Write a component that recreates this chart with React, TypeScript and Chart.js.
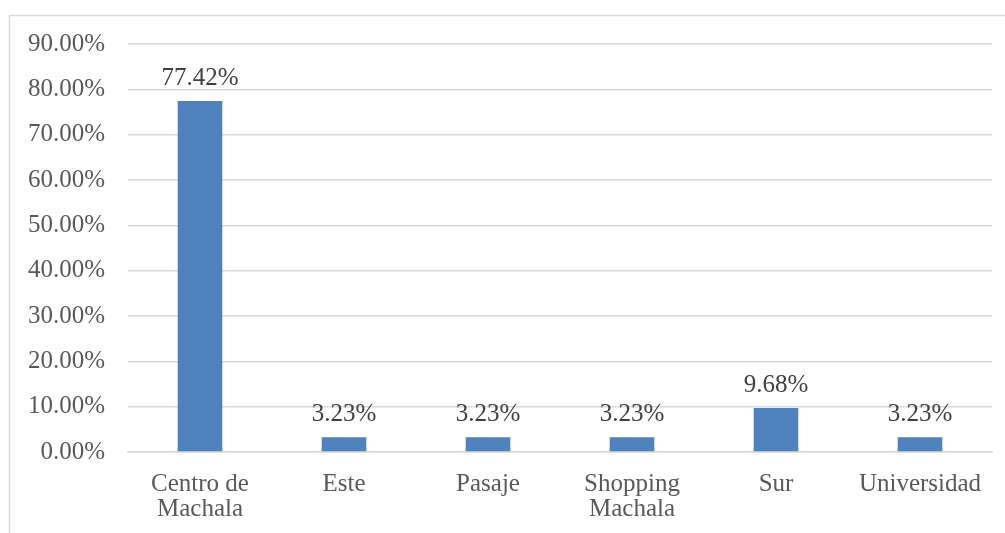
import React, { useEffect, useRef } from "react";
import { Chart, registerables } from "chart.js";

Chart.register(...registerables);

const categories: (string | string[])[] = [
  ["Centro de", "Machala"],
  "Este",
  "Pasaje",
  ["Shopping", "Machala"],
  "Sur",
  "Universidad",
];
const values: number[] = [77.42, 3.23, 3.23, 3.23, 9.68, 3.23];
const yMax = 90;
const yStep = 10;

const FONT = "'Liberation Serif', 'DejaVu Serif', serif";

const frameAndLabels = {
  id: "frameAndLabels",
  beforeDraw(chart: any) {
    const ctx = chart.ctx;
    ctx.save();
    ctx.fillStyle = "#ffffff";
    ctx.fillRect(0, 0, chart.width, chart.height);
    ctx.strokeStyle = "#D9D9D9";
    ctx.lineWidth = 1.5;
    ctx.strokeRect(9.5, 15.5, 3000, 3000);
    ctx.restore();
  },
  afterDatasetsDraw(chart: any) {
    const ctx = chart.ctx;
    const meta = chart.getDatasetMeta(0);
    ctx.save();
    ctx.font = `25px ${FONT}`;
    ctx.fillStyle = "#404040";
    ctx.textAlign = "center";
    ctx.textBaseline = "alphabetic";
    meta.data.forEach((bar: any, i: number) => {
      ctx.fillText(values[i].toFixed(2) + "%", bar.x, bar.y - 16);
    });
    ctx.restore();
  },
};

export default function App() {
  const ref = useRef<HTMLCanvasElement | null>(null);
  useEffect(() => {
    if (!ref.current) return;
    const chart = new Chart(ref.current, {
      type: "bar",
      data: {
        labels: categories,
        datasets: [
          {
            data: values,
            backgroundColor: "#4F81BD",
            borderWidth: 0,
            categoryPercentage: 1,
            barPercentage: 0.31,
          },
        ],
      },
      options: {
        animation: false,
        responsive: true,
        maintainAspectRatio: false,
        layout: { padding: { left: 10, top: 44, right: 13, bottom: 0 } },
        plugins: { legend: { display: false }, tooltip: { enabled: false } },
        scales: {
          x: {
            grid: { display: false, drawTicks: false },
            border: { display: true, color: "#D9D9D9", width: 1.5 },
            ticks: {
              color: "#595959",
              font: { family: FONT, size: 25, lineHeight: 1.0 },
              padding: 20,
              maxRotation: 0,
              autoSkip: false,
            },
            afterFit(scale: any) {
              scale.height = 81;
            },
          },
          y: {
            min: 0,
            max: yMax,
            grid: { color: "#D9D9D9", lineWidth: 1.5, drawTicks: false },
            border: { display: false },
            ticks: {
              stepSize: yStep,
              color: "#595959",
              font: { family: FONT, size: 25 },
              padding: 23,
              callback: (v: any) => Number(v).toFixed(2) + "%",
            },
            afterFit(scale: any) {
              scale.width = 118;
            },
          },
        },
      },
      plugins: [frameAndLabels],
    });
    return () => chart.destroy();
  }, []);
  return (
    <div
      style={{
        position: "fixed",
        top: 0,
        left: 0,
        width: 1005,
        height: 533,
        background: "#fff",
      }}
    >
      <canvas ref={ref} />
    </div>
  );
}
